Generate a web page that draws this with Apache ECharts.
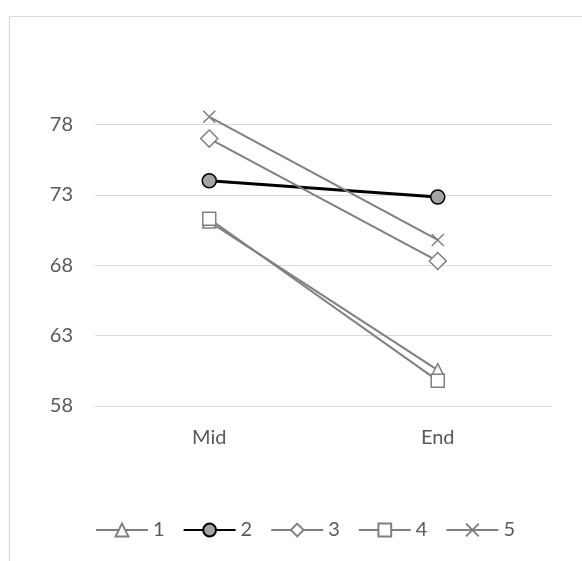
<!DOCTYPE html>
<html>
<head>
<meta charset="utf-8">
<script src="https://cdn.jsdelivr.net/npm/echarts@6/dist/echarts.min.js"></script>
<style>html,body{margin:0;padding:0;background:#fff;}#c{width:582px;height:561px;}</style>
</head>
<body>
<div id="c"></div>
<script>
const categories = ['Mid', 'End'];
const seriesNames = ['1', '2', '3', '4', '5'];
const s1 = [71.1, 60.55];
const s2 = [74.0, 72.85];
const s3 = [77.0, 68.3];
const s4 = [71.3, 59.8];
const s5 = [78.55, 69.8];
const yTicks = [58, 63, 68, 73, 78];

const gray = '#808080';
const font = 'Lato, Carlito, Calibri, sans-serif';
const crossPath = 'path://M0,0L10,10M10,0L0,10';

function mk(name, data, symbol, size, opts) {
  opts = opts || {};
  return {
    name: name,
    type: 'line',
    data: data,
    symbol: symbol,
    symbolSize: size,
    clip: false,
    lineStyle: { color: opts.line || gray, width: opts.lw || 2 },
    itemStyle: { color: opts.fill || '#fff', borderColor: opts.border || gray, borderWidth: opts.bw || 1.5 },
    emphasis: { disabled: true },
    animation: false
  };
}

const chart = echarts.init(document.getElementById('c'));
chart.setOption({
  backgroundColor: '#fff',
  animation: false,
  graphic: [{
    type: 'rect', left: 7, top: 14, shape: { width: 620, height: 600 },
    style: { fill: 'none', stroke: '#d9d9d9', lineWidth: 1.2 }, silent: true
  }],
  grid: { left: 95, right: 30, top: 124.5, bottom: 155, containLabel: false },
  xAxis: {
    type: 'category', data: categories, boundaryGap: true,
    axisLine: { show: false }, axisTick: { show: false },
    axisLabel: { color: '#595959', fontSize: 20, fontFamily: font, margin: 22 }
  },
  yAxis: {
    type: 'value', min: yTicks[0], max: yTicks[yTicks.length - 1], interval: 5,
    axisLine: { show: false }, axisTick: { show: false },
    axisLabel: { color: '#595959', fontSize: 20, fontFamily: font, margin: 22 },
    splitLine: { lineStyle: { color: '#d9d9d9', width: 1 } }
  },
  legend: {
    left: 90, top: 515, itemWidth: 52, itemHeight: 16, itemGap: 18,
    textStyle: { color: '#595959', fontSize: 20, fontFamily: font },
    data: seriesNames
  },
  series: [
    mk(seriesNames[0], s1, 'triangle', 13),
    mk(seriesNames[1], s2, 'circle', 14, { line: '#000', lw: 3, fill: '#a5a5a5', border: '#000', bw: 1.5 }),
    mk(seriesNames[2], s3, 'diamond', 17),
    mk(seriesNames[3], s4, 'rect', 13),
    mk(seriesNames[4], s5, crossPath, 12)
  ]
});
</script>
</body>
</html>
